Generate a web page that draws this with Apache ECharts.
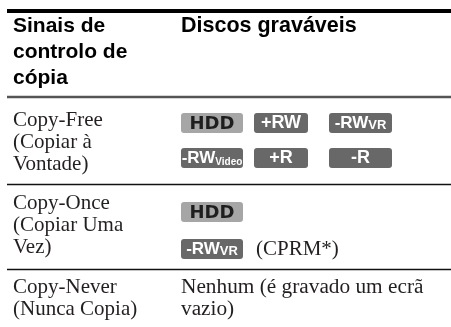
<!DOCTYPE html>
<html>
<head>
<meta charset="utf-8">
<script src="https://cdn.jsdelivr.net/npm/echarts@6/dist/echarts.min.js"></script>
<style>
html,body{margin:0;padding:0;background:#fff;}
#chart{width:451px;height:327px;}
</style>
</head>
<body>
<div id="chart"></div>
<script>
// ---- data ----
const headerSignal = ['Sinais de', 'controlo de', 'cópia'];
const headerDiscs = ['Discos graváveis'];
const signalLabels = [
  ['Copy-Free', '(Copiar à', 'Vontade)'],
  ['Copy-Once', '(Copiar Uma', 'Vez)'],
  ['Copy-Never', '(Nunca Copia)']
];
const discBadges = [
  [['HDD', '+RW', '-RWVR'], ['-RWVideo', '+R', '-R']],
  [['HDD'], ['-RWVR']],
  []
];
const discNotes = ['', '(CPRM*)', 'Nenhum (é gravado um ecrã\nvazio)'];

// ---- layout / style ----
const SANS = '"Liberation Sans", Arial, Helvetica, sans-serif';
const SERIF = '"Liberation Serif", "Times New Roman", serif';
const WIDE = '"DejaVu Sans", Verdana, sans-serif';
const L = {
  x0: 7, x1: 451,
  topRuleY: 11, topRuleW: 4,
  headRuleY: 97, headRuleW: 2.5,
  rowRuleYs: [184.5, 269.5], rowRuleW: 1.5,
  col1X: 13, col2X: 181,
  headCenters: [26, 52, 78],
  rowCenters: [[120.5, 142.5, 164.5], [203.5, 225.5, 247.5], [287.5, 309.5]],
  badgeCols: [{x: 181, w: 62}, {x: 254, w: 54}, {x: 329, w: 63}],
  badgeTops: [[113, 148], [202, 239]],
  badgeH: 20,
  noteGap: 13
};
const TEXT = '#231f20';

const g = [];
function line(y, w, color) {
  g.push({type: 'line', shape: {x1: L.x0, y1: y, x2: L.x1, y2: y}, style: {stroke: color, lineWidth: w}, silent: true});
}
function txt(x, y, s, font, fill, align) {
  g.push({type: 'text', x: x, y: y, z: 2, silent: true,
    style: {text: s, font: font, fill: fill || TEXT, align: align || 'left', verticalAlign: 'middle'}});
}
function badge(name, col, top) {
  const c = L.badgeCols[col];
  const isHdd = name === 'HDD';
  g.push({type: 'rect', shape: {x: c.x, y: top, width: c.w, height: L.badgeH, r: 3},
    style: {fill: isHdd ? '#a6a6a6' : '#686868'}, silent: true, z: 1});
  const cx = c.x + c.w / 2, cy = top + L.badgeH / 2 + 1;
  if (isHdd) {
    txt(cx, cy, 'HDD', 'bold 18px ' + WIDE, '#1e1e1e', 'center');
    return;
  }
  let main = name, sub = '', subSize = 12, mainSize = 18;
  if (name.endsWith('Video')) { main = name.slice(0, -5); sub = 'Video'; subSize = 10; mainSize = 17; }
  else if (name.endsWith('VR')) { main = name.slice(0, -2); sub = 'VR'; subSize = 13; mainSize = 17; }
  const rich = {
    m: {fontFamily: SANS, fontWeight: 'bold', fontSize: mainSize, fill: '#fff', verticalAlign: 'bottom', lineHeight: 18},
    s: {fontFamily: SANS, fontWeight: 'bold', fontSize: subSize, fill: '#fff', verticalAlign: 'bottom', lineHeight: 18}
  };
  const text = '{m|' + main + '}' + (sub ? '{s|' + sub + '}' : '');
  g.push({type: 'text', x: cx, y: cy - 1, z: 2, silent: true,
    style: {text: text, rich: rich, align: 'center', verticalAlign: 'middle'}});
}

// rules
line(L.topRuleY, L.topRuleW, '#000');
line(L.headRuleY, L.headRuleW, '#555');
L.rowRuleYs.forEach(y => line(y, L.rowRuleW, '#111'));

// header
headerSignal.forEach((s, i) => txt(L.col1X, L.headCenters[i], s, 'bold 21px ' + SANS, '#000'));
headerDiscs.forEach((s, i) => txt(L.col2X, L.headCenters[i], s, 'bold 21.5px ' + SANS, '#000'));

// rows
signalLabels.forEach((lines, r) => {
  lines.forEach((s, i) => txt(L.col1X, L.rowCenters[r][i], s, '21px ' + SERIF));
});
discBadges.forEach((rows, r) => {
  rows.forEach((names, li) => {
    names.forEach((n, ci) => badge(n, ci, L.badgeTops[r][li]));
  });
});
discNotes.forEach((note, r) => {
  if (!note) return;
  const rows = discBadges[r];
  if (rows.length) {
    const li = rows.length - 1;
    const lastCol = L.badgeCols[rows[li].length - 1];
    txt(lastCol.x + lastCol.w + L.noteGap, L.badgeTops[r][li] + L.badgeH / 2, note, '21px ' + SERIF);
  } else {
    note.split('\n').forEach((s, i) => txt(L.col2X, L.rowCenters[r][i], s, '21.3px ' + SERIF));
  }
});

const chart = echarts.init(document.getElementById('chart'), null, {renderer: 'canvas'});
chart.setOption({backgroundColor: '#fff', animation: false, graphic: {elements: g}});
</script>
</body>
</html>
